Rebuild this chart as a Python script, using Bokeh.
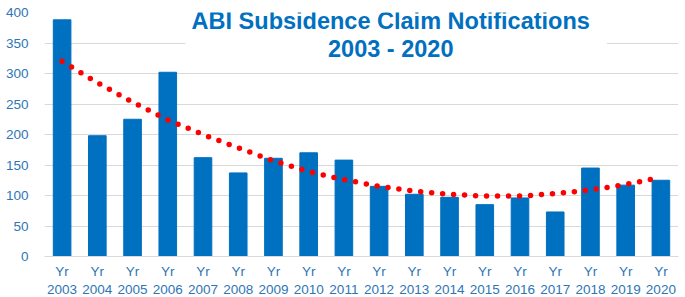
from bokeh.plotting import figure
from bokeh.models import (Range1d, FixedTicker, Label, BoxAnnotation, CategoricalAxis,
                          CustomJSTickFormatter)
from bokeh.embed import file_html
from bokeh.resources import INLINE

years = ["2003", "2004", "2005", "2006", "2007", "2008", "2009", "2010", "2011",
         "2012", "2013", "2014", "2015", "2016", "2017", "2018", "2019", "2020"]
claims = [388, 198, 225, 302, 162, 137, 161, 170, 158,
          115, 102, 97, 85, 96, 73, 145, 117, 125]
trend = [320, 285, 253, 224, 200, 178, 157, 139, 126,
         115, 107, 102, 99, 99, 103, 109, 118, 130]
y_ticks = [0, 50, 100, 150, 200, 250, 300, 350, 400]
year_prefix = "Yr"
title_lines = ["ABI Subsidence Claim Notifications", "2003 - 2020"]

FONT = "Liberation Sans"
BLUE = "#0070C0"
LABEL = "#2E75B6"

p = figure(width=685, height=297, x_range=years, y_range=Range1d(0, 400),
           output_backend="svg", toolbar_location=None,
           min_border_left=44, min_border_right=7, min_border_top=12, min_border_bottom=41)
p.outline_line_color = None
p.background_fill_color = "white"

p.vbar(x=years, top=claims, width=0.5, color=BLUE)
p.line(x=years, y=trend, line_color="#FF0000", line_width=5.5,
       line_dash="0 11", line_cap="round")

p.xgrid.grid_line_color = None
p.ygrid.grid_line_color = "#D9D9D9"
p.ygrid.ticker = FixedTicker(ticks=y_ticks)

p.yaxis.ticker = FixedTicker(ticks=y_ticks)
p.yaxis.axis_line_color = None
p.yaxis.major_tick_line_color = None
p.yaxis.minor_tick_line_color = None
p.yaxis.major_label_text_font = FONT
p.yaxis.major_label_text_font_size = "13.5px"
p.yaxis.major_label_text_color = LABEL
p.yaxis.major_label_standoff = 10

# inner x axis: "Yr"
xa = p.xaxis[0]
xa.axis_line_color = "#D9D9D9"
xa.major_tick_line_color = None
xa.minor_tick_line_color = None
xa.major_label_text_font = FONT
xa.major_label_text_font_size = "13.5px"
xa.major_label_text_color = LABEL
xa.major_label_standoff = 1
xa.formatter = CustomJSTickFormatter(args=dict(prefix=year_prefix), code="return prefix;")

# outer x axis: year
xa2 = CategoricalAxis()
xa2.axis_line_color = None
xa2.major_tick_line_color = None
xa2.minor_tick_line_color = None
xa2.major_label_text_font = FONT
xa2.major_label_text_font_size = "13.5px"
xa2.major_label_text_color = LABEL
xa2.major_label_standoff = -3
p.add_layout(xa2, "below")

box = BoxAnnotation(left=4.0, right=15.97, bottom=305, top=410,
                    fill_color="white", fill_alpha=1.0, line_color=None)
p.add_layout(box)

for txt, yv in zip(title_lines, [386.5, 340.5]):
    p.add_layout(Label(x=9.83, y=yv, text=txt, text_align="center",
                       text_baseline="alphabetic", text_font=FONT,
                       text_font_style="bold", text_font_size="23.5px",
                       text_color=BLUE))

open("out.html", "w").write(file_html(p, INLINE))
